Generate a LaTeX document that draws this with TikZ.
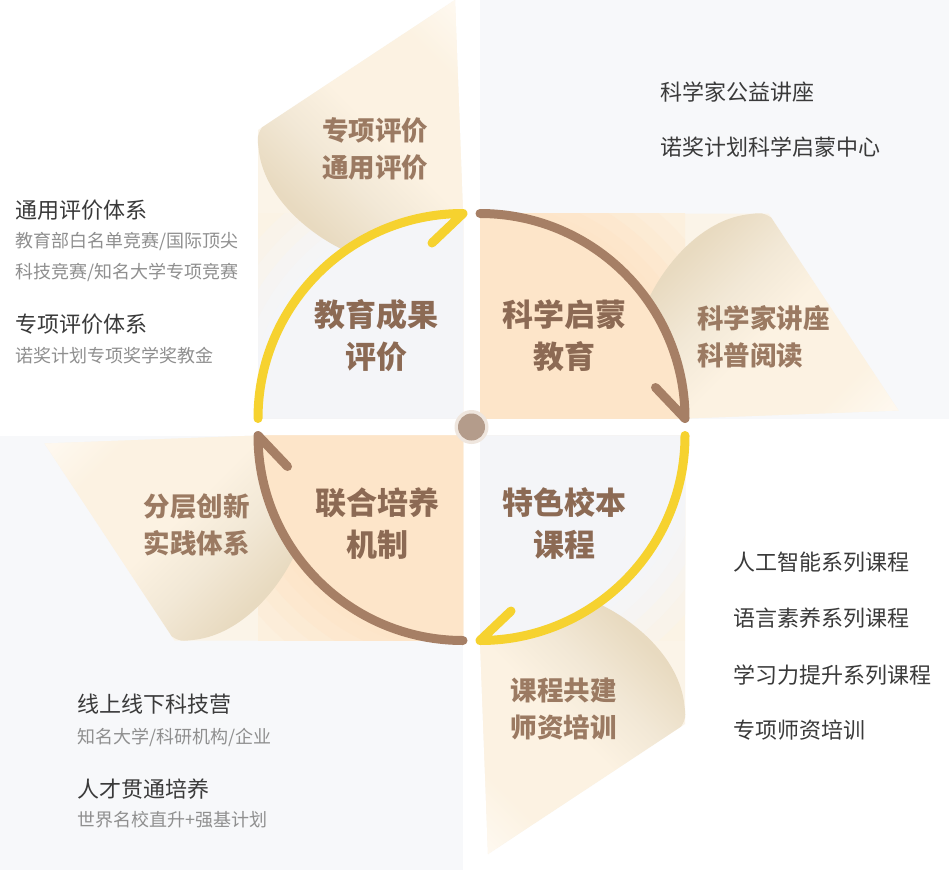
\documentclass[tikz,border=0pt]{standalone}
\usepackage{fontspec}
\newfontfamily\cjk{Noto Sans CJK SC}
\usetikzlibrary{calc}
\definecolor{bgG}{HTML}{F7F8FA}
\definecolor{sqG}{HTML}{F4F5F8}
\definecolor{sqP}{HTML}{FDE5C9}
\definecolor{bladeB}{HTML}{FBF4E8}
\definecolor{bladeC}{HTML}{FCF2E2}
\definecolor{bladeL}{HTML}{FFFCF7}
\definecolor{curlD}{HTML}{E8DAC0}
\definecolor{curlM}{HTML}{F2E8D6}
\definecolor{yel}{HTML}{F6D22F}
\definecolor{brn}{HTML}{A67F65}
\definecolor{labC}{HTML}{8C6A54}
\definecolor{bladeT}{HTML}{9B7A62}
\definecolor{darkT}{HTML}{3A3A3A}
\definecolor{grayT}{HTML}{8F8F8F}
\definecolor{dotC}{HTML}{B49C8B}
\definecolor{haloC}{HTML}{EFE6DE}
\pgfdeclarehorizontalshading{curlsh}{100bp}{color(0bp)=(curlD); color(27bp)=(curlD); color(40bp)=(curlM); color(52bp)=(bladeC); color(72bp)=(bladeC); color(90bp)=(bladeL); color(100bp)=(bladeL)}
\tikzset{
  mainlab/.style={font=\cjk\bfseries\fontsize{31}{42}\selectfont, text=labC, align=center, inner sep=0pt},
  bladelab/.style={font=\cjk\bfseries\fontsize{26.5}{37}\selectfont, text=bladeT, align=center, inner sep=0pt},
  headt/.style={font=\cjk\fontsize{22}{26}\selectfont, text=darkT, anchor=west, inner sep=0pt},
  subt/.style={font=\cjk\fontsize{18}{22}\selectfont, text=grayT, anchor=west, inner sep=0pt},
  arcline/.style={line width=9pt, line cap=round, line join=round}
}
\begin{document}
\begin{tikzpicture}[x=1pt,y=1pt]
\useasboundingbox (0,0) rectangle (949,-870);
\fill[white] (0,0) rectangle (949,-870);
\coordinate (C) at (471.5,-427);
% background panels
\fill[bgG] (480,0) rectangle (949,-418.5);
\fill[bgG] (0,-435.5) rectangle (463,-870);
% four quadrants
\foreach \ang/\sqc/\arcc in {0/sqG/yel,-90/sqP/brn,-180/sqG/yel,-270/sqP/brn}{
  \pgfmathsetmacro\sa{45+\ang}
  \coordinate (b1) at ($(C)!1!\ang:(258,-213.5)$);
  \coordinate (b2) at ($(C)!1!\ang:(258,-130)$);
  \coordinate (b3) at ($(C)!1!\ang:(455,0)$);
  \coordinate (b4) at ($(C)!1!\ang:(463,-213.5)$);
  \fill[bladeB] (b1) -- (b2) -- (b3) -- (b4) -- cycle;
  \begin{scope}[rotate around={\ang:(C)}]
    \begin{scope}
      \clip (258,-213.5) rectangle (463,-418.5);
      \fill[bladeC] (258,-213.5) rectangle (463,-418.5);
      \foreach \r/\p in {290/15,272/35,256/55,242/75,228/90,216/100}{
        \fill[\sqc!\p!bladeC] (463,-418.5) -- ++(180:\r) arc[start angle=180,end angle=90,radius=\r] -- cycle;
      }
    \end{scope}
  \end{scope}
  \coordinate (k1) at ($(C)!1!\ang:(262,-127.4)$);
  \coordinate (k3a) at ($(C)!1!\ang:(305,-232)$);
  \coordinate (k4b) at ($(C)!1!\ang:(265,-195)$);
  \coordinate (k4) at ($(C)!1!\ang:(259,-152)$);
  \coordinate (k4a) at ($(C)!1!\ang:(257,-136)$);
  \shade[shading=curlsh, shading angle=\sa] (k1) -- (b3) -- (b4)
     arc[start angle=90+\ang, end angle=125.1+\ang, radius=205]
     .. controls (k3a) and (k4b) .. (k4) .. controls (k4a) .. (k1) -- cycle;
  \begin{scope}[rotate around={\ang:(C)}]
    \draw[arcline, \arcc] (258,-418.5) arc[start angle=180, end angle=90, radius=205] -- ++(-31,-29.5);
  \end{scope}
}
% centre dot
\fill[haloC] (C) circle[radius=17pt];
\fill[dotC] (C) circle[radius=13.5pt];
% main labels
\node[mainlab] (m1) at (376,-336) {教育成果\\评价};
\node[mainlab] (m2) at (564,-336) {科学启蒙\\教育};
\node[mainlab] (m3) at (564,-523.5) {特色校本\\课程};
\node[mainlab] (m4) at (377,-523.5) {联合培养\\机制};
% blade labels
\node[bladelab] (p1) at (375,-149) {专项评价\\通用评价};
\node[bladelab, anchor=west, align=left] (p2) at (697,-336.5) {科学家讲座\\科普阅读};
\node[bladelab] (p3) at (563.5,-708.5) {课程共建\\师资培训};
\node[bladelab] (p4) at (196.5,-525) {分层创新\\实践体系};
% side texts: top left
\node[headt] (tl1) at (15,-210) {通用评价体系};
\node[subt] (tl2) at (15,-241) {教育部白名单竞赛/国际顶尖};
\node[subt] (tl3) at (15,-272) {科技竞赛/知名大学专项竞赛};
\node[headt] (tl4) at (15,-324) {专项评价体系};
\node[subt] (tl5) at (15,-356) {诺奖计划专项奖学奖教金};
% top right
\node[headt] (tr1) at (660,-92) {科学家公益讲座};
\node[headt] (tr2) at (660,-147) {诺奖计划科学启蒙中心};
% bottom left
\node[headt] (bl1) at (77,-704) {线上线下科技营};
\node[subt] (bl2) at (77,-737) {知名大学/科研机构/企业};
\node[headt] (bl3) at (77,-789) {人才贯通培养};
\node[subt] (bl4) at (77,-820) {世界名校直升+强基计划};
% bottom right
\node[headt] (br1) at (733,-562) {人工智能系列课程};
\node[headt] (br2) at (733,-618) {语言素养系列课程};
\node[headt] (br3) at (733,-675) {学习力提升系列课程};
\node[headt] (br4) at (733,-730) {专项师资培训};
\end{tikzpicture}
\end{document}
